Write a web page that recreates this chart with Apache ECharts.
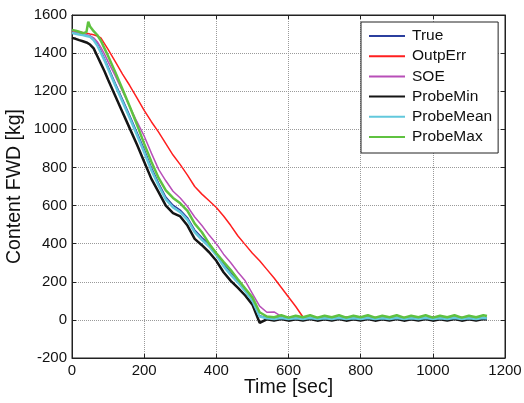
<!DOCTYPE html>
<html>
<head>
<meta charset="utf-8">
<script src="https://cdn.jsdelivr.net/npm/echarts@6/dist/echarts.min.js"></script>
<style>
  html, body { margin: 0; padding: 0; background: #fff; }
  #chart { width: 524px; height: 403px; }
</style>
</head>
<body>
<div id="chart"></div>
<script>
// time samples [sec]
var time = [0, 10, 20, 30, 40, 45, 50, 60, 70, 80, 90, 100,
    120, 140, 160, 180, 200, 220, 240, 260, 280, 300, 320, 340, 360, 380, 400, 420, 440, 460, 480, 500,
    520, 540, 560, 580, 600, 620, 640, 660, 680, 700, 720, 740, 760, 780, 800, 820, 840, 860, 880, 900,
    920, 940, 960, 980, 1000, 1020, 1040, 1060, 1080, 1100, 1120, 1140,
    1150];

var seriesNames = ['True', 'OutpErr', 'SOE', 'ProbeMin', 'ProbeMean', 'ProbeMax'];

var trueFwd = [1510, 1506, 1502, 1498, 1494, 1492, 1490, 1475, 1450, 1412, 1372, 1330,
    1242, 1158, 1072, 984, 895, 800, 718, 645, 602, 576, 536, 472, 432, 396, 350, 294, 248, 206, 160, 110,
    22, 10, 8, 13, 7, 12, 8, 13, 7, 12, 8, 13, 7, 12, 8, 13, 7, 12, 8, 13, 7, 12, 8, 13, 7, 12, 8, 13, 7, 12, 8, 13,
    10];

var outpErr = [1518, 1515, 1512, 1508, 1505, 1503, 1500, 1496, 1490, 1480, 1450, 1420,
    1355, 1290, 1230, 1165, 1100, 1040, 985, 925, 865, 815, 760, 700, 660, 625, 590, 545, 495, 440, 395, 350,
    310, 265, 220, 170, 120, 70, 15, 10, 12, 9, 13, 10, 12, 9, 13, 10, 12, 9, 13, 10, 12, 9, 13, 10, 12, 9, 13, 10, 12, 9, 13, 10,
    11];

var soe = [1510, 1507, 1504, 1500, 1496, 1494, 1490, 1480, 1460, 1430, 1395, 1355,
    1280, 1200, 1120, 1040, 965, 875, 790, 730, 675, 640, 595, 540, 495, 445, 400, 345, 300, 250, 205, 138,
    72, 40, 42, 18, 14, 12, 16, 13, 11, 15, 13, 11, 16, 13, 11, 15, 13, 11, 16, 13, 11, 15, 13, 11, 16, 13, 11, 15, 13, 11, 16, 13,
    13];

var probeMin = [1480, 1475, 1468, 1462, 1456, 1452, 1445, 1425, 1385, 1345, 1305, 1260,
    1175, 1090, 1005, 920, 830, 740, 670, 600, 560, 543, 495, 425, 392, 355, 310, 250, 205, 168, 128, 80,
    -15, 3, -3, 4, -4, 3, -3, 4, -4, 3, -3, 4, -4, 3, -3, 4, -4, 3, -3, 4, -4, 3, -3, 4, -4, 3, -3, 4, -4, 3, -3, 4,
    2];

var probeMean = [1505, 1502, 1498, 1495, 1490, 1488, 1485, 1468, 1440, 1402, 1362, 1318,
    1230, 1145, 1060, 970, 880, 785, 705, 632, 590, 565, 525, 460, 420, 385, 340, 282, 236, 196, 150, 100,
    18, 8, 5, 10, 4, 9, 5, 10, 4, 9, 5, 10, 4, 9, 5, 10, 4, 9, 5, 10, 4, 9, 5, 10, 4, 9, 5, 10, 4, 9, 5, 10,
    7];

var probeMax = [1522, 1518, 1512, 1505, 1510, 1565, 1540, 1515, 1495, 1465, 1425, 1385,
    1300, 1210, 1120, 1025, 925, 830, 745, 680, 640, 612, 572, 505, 460, 400, 350, 305, 262, 212, 165, 118,
    40, 18, 14, 24, 12, 22, 14, 24, 12, 22, 14, 24, 12, 22, 14, 24, 12, 22, 14, 24, 12, 22, 14, 24, 12, 22, 14, 24, 12, 22, 14, 24,
    20];

var seriesValues = [trueFwd, outpErr, soe, probeMin, probeMean, probeMax];
var seriesColors = ['#2b3f9e', '#ff1f1f', '#b84fb8', '#151515', '#62c8dc', '#5fc240'];
var seriesWidths = [1.5, 1.5, 1.5, 2.5, 2.5, 2.5];

var fontFamily = '"Liberation Sans", Arial, sans-serif';

function toPairs(values) {
    var out = [];
    for (var i = 0; i < time.length; i++) {
        out.push([time[i], values[i]]);
    }
    return out;
}

var series = [];
for (var i = 0; i < seriesNames.length; i++) {
    series.push({
        type: 'line',
        name: seriesNames[i],
        data: toPairs(seriesValues[i]),
        showSymbol: false,
        symbol: 'none',
        xAxisIndex: 0,
        yAxisIndex: 0,
        lineStyle: { color: seriesColors[i], width: seriesWidths[i] },
        itemStyle: { color: seriesColors[i] }
    });
}

var plainNum = function (v) { return String(v); };
var tickStyle = { show: true, inside: true, length: 4, lineStyle: { color: '#222' } };
var lineStyle = { show: true, onZero: false, lineStyle: { color: '#222', width: 1 } };
var gridLine = { show: true, lineStyle: { color: '#9a9a9a', type: 'dotted', width: 1 } };
var labelStyle = { fontFamily: fontFamily, fontSize: 15, color: '#111', margin: 5, formatter: plainNum };
var nameStyle = { fontFamily: fontFamily, fontSize: 19.5, color: '#111' };

var options = {
    animation: false,
    backgroundColor: '#fff',
    grid: {
        left: 72, right: 19, top: 15, bottom: 45,
        containLabel: false,
        outerBoundsMode: 'none',
        show: true, borderColor: '#222', borderWidth: 1, backgroundColor: 'transparent'
    },
    legend: {
        data: seriesNames,
        orient: 'vertical',
        left: 361,
        top: 22,
        backgroundColor: '#fff',
        borderColor: '#222',
        borderWidth: 1,
        borderRadius: 0,
        padding: [6, 6, 8, 8],
        itemWidth: 36,
        itemHeight: 2,
        itemGap: 4.2,
        icon: 'rect',
        textStyle: { fontFamily: fontFamily, fontSize: 15.5, color: '#111', lineHeight: 16, padding: [0, 0, 0, 2] }
    },
    xAxis: [{
        type: 'value',
        min: 0, max: 1200, interval: 200,
        name: 'Time [sec]',
        nameLocation: 'middle',
        nameGap: 20,
        nameMoveOverlap: false,
        nameTextStyle: nameStyle,
        axisLine: lineStyle,
        axisTick: tickStyle,
        axisLabel: labelStyle,
        splitLine: gridLine
    }, {
        type: 'value',
        position: 'top',
        min: 0, max: 1200, interval: 200,
        axisLine: lineStyle,
        axisTick: tickStyle,
        axisLabel: { show: false },
        splitLine: { show: false }
    }],
    yAxis: [{
        type: 'value',
        min: -200, max: 1600, interval: 200,
        name: 'Content FWD [kg]',
        nameLocation: 'middle',
        nameGap: 47,
        nameMoveOverlap: false,
        nameTextStyle: nameStyle,
        axisLine: lineStyle,
        axisTick: tickStyle,
        axisLabel: labelStyle,
        splitLine: gridLine
    }, {
        type: 'value',
        position: 'right',
        min: -200, max: 1600, interval: 200,
        axisLine: lineStyle,
        axisTick: tickStyle,
        axisLabel: { show: false },
        splitLine: { show: false }
    }],
    series: series
};

var chartObj = echarts.init(document.getElementById('chart'), null, { renderer: 'canvas' });
chartObj.setOption(options);
</script>
</body>
</html>
